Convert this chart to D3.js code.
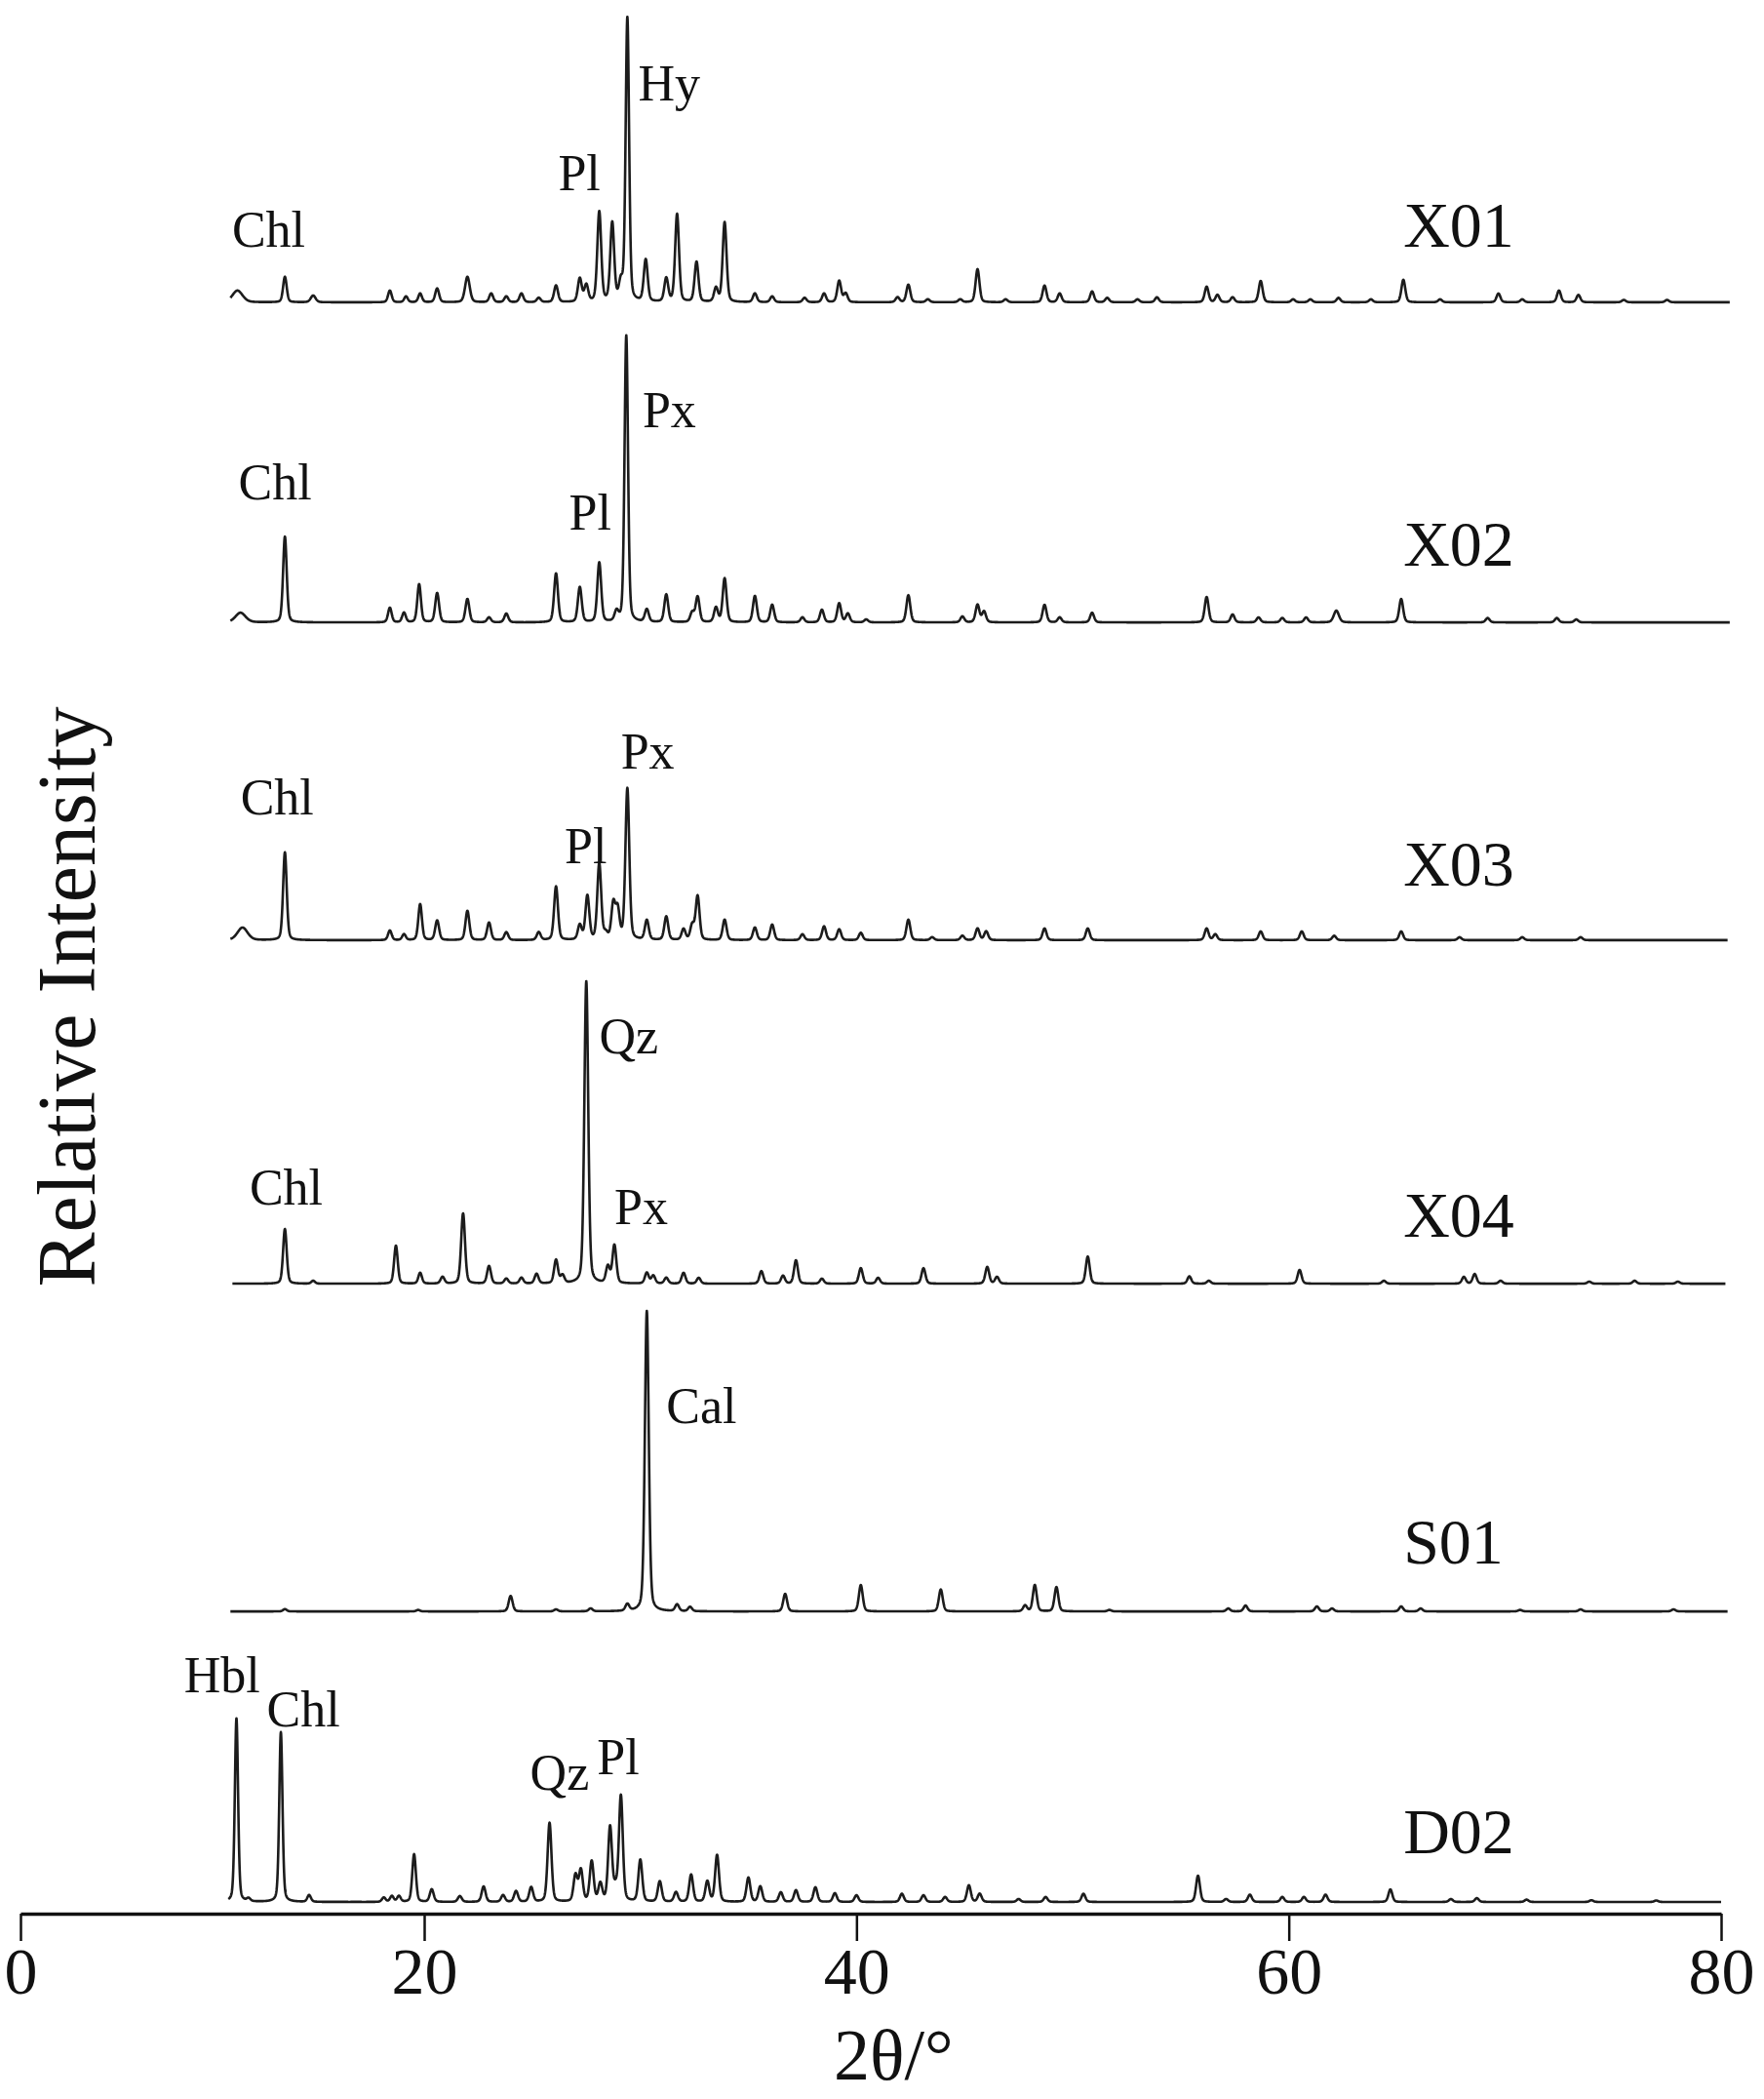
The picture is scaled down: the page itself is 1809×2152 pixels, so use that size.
<!DOCTYPE html>
<html><head><meta charset="utf-8">
<script src="https://cdn.jsdelivr.net/npm/d3@7"></script>
<style>
body{margin:0;background:#fff}
svg{display:block}
text{font-family:"Liberation Serif","Times New Roman",serif;fill:#111}
</style>
</head><body>
<svg id="chart" width="1809" height="2152"></svg>
<script>
// ---------------- DATA ----------------
const samples = ["X01","X02","X03","X04","S01","D02"];
// vertical stacking offset of each pattern (intensity units)
const offsets = [550.7, 441.3, 332.7, 215.3, 103.3, 4];
// scanned 2θ range of each pattern
const scanRanges = [[10.4,80.4],[10.4,80.4],[10.4,80.3],[10.5,80.2],[10.4,80.3],[10.3,80.0]];
const xTicks = [0,20,40,60,80];

// peak lists: [2θ position, relative intensity, optional width]
const peaksX01 = [[10.75,4,0.25],[13.1,8.7],[14.5,2.3,0.12],[18.3,4],[19.1,2],[19.8,3],[20.6,4.7],[22.0,8.7,0.11],[23.1,3],[23.8,2],[24.5,3],[25.3,1.5],[26.1,5.7],[27.2,8],[27.5,5.7],[28.1,30.7],[28.7,26.7],[29.1,6],[29.4,97,0.08],[30.25,14.3],[31.2,8],[31.7,30],[32.6,13.7],[33.5,4.7],[33.9,27.3],[35.3,3],[36.1,2],[37.6,1.5],[38.5,3],[39.2,7.3],[39.5,3],[41.9,1.7],[42.4,6],[43.3,1],[44.8,1],[45.6,11.3],[46.9,1],[48.7,5.7],[49.4,3],[50.9,3.7],[51.6,1.5],[53.0,1],[53.9,1.7],[56.2,5.3],[56.7,2.5],[57.4,1.7],[58.7,7.3],[60.2,1],[61.0,1],[62.3,1.5],[63.8,1],[65.3,7.7],[67.0,1],[69.7,3],[70.8,1],[72.5,4],[73.4,2.5],[75.5,0.8],[77.5,0.8]];
const peaksX02 = [[10.9,3.3,0.25],[13.1,29.3],[18.3,5],[19.0,3.3],[19.75,13],[20.6,10],[22.0,8],[23.0,1.7],[23.8,3],[26.1,16.7],[27.2,12],[28.1,20.3],[28.9,3.3],[29.35,98,0.08],[30.3,4.3],[31.2,9.5],[32.4,3.3],[32.65,8.7],[33.5,5],[33.9,15],[35.3,9],[36.1,6],[37.5,1.7],[38.4,4.3],[39.2,6.5],[39.6,3],[40.45,1],[42.4,9.3],[44.9,2],[45.6,6],[45.9,3.7],[48.7,6],[49.4,1.7],[50.9,3.3],[56.2,8.7],[57.4,2.7],[58.6,1.7],[59.7,1.5],[60.8,1.7],[62.2,4,0.12],[65.2,8],[69.2,1.5],[72.4,1.5],[73.3,1]];
const peaksX03 = [[11.0,4.3,0.25],[13.1,30],[18.3,3.3],[19.0,2],[19.8,12.3],[20.6,6.7],[22.0,10],[23.0,6],[23.8,2.7],[25.3,2.7],[26.1,18.3],[27.2,5],[27.55,15],[28.1,26],[28.4,2],[28.75,12],[28.95,10],[29.4,51.7],[30.3,6.7],[31.2,8],[32.0,3.7],[32.4,5],[32.65,15],[33.9,7],[35.3,4.3],[36.1,5.3],[37.5,2],[38.5,4.7],[39.2,3.7],[40.2,2.5],[42.4,7],[43.5,1],[44.9,1.5],[45.6,4],[46.0,3],[48.7,4],[50.7,4],[56.2,4],[56.6,2],[58.7,3],[60.6,3],[62.1,1.5],[65.2,3],[67.9,1],[70.8,1],[73.5,1]];
const peaksX04 = [[13.1,18.7],[14.5,1],[18.6,13],[19.8,3.7],[20.85,2.3],[21.8,24],[23.0,6],[23.8,1.7],[24.5,2],[25.2,3.3],[26.1,8],[26.4,2.7],[27.5,103.3,0.09],[28.5,5.7],[28.8,13],[30.3,3.7],[30.6,2.7],[31.2,2],[32.0,3.7],[32.7,2],[35.6,4.3],[36.6,2.7],[37.2,8],[38.4,1.7],[40.2,5.3],[41.0,2],[43.1,5.3],[46.05,5.7],[46.5,2.3],[50.7,9.3],[55.4,2.5],[56.3,1],[60.5,4.7],[64.4,1],[68.1,2.3],[68.6,3.3],[69.8,1],[73.9,0.7],[76.0,1],[78.0,0.7]];
const peaksS01 = [[13.1,0.8],[19.7,0.5],[24.0,5.3],[26.1,0.7],[27.7,1],[29.4,2.3],[30.3,102.7,0.09],[31.7,2.3],[32.3,1.5],[36.7,6],[40.2,9],[43.9,7.5],[47.8,2],[48.25,9],[49.25,8.3],[51.7,0.5],[57.2,1],[58.0,2],[61.3,1.7],[62.0,1],[65.2,1.7],[66.1,1],[70.7,0.5],[73.5,0.7],[77.8,0.7]];
const peaksD02 = [[10.7,62.7,0.08],[11.3,1],[12.9,58,0.08],[14.3,2.3],[18.0,1.5],[18.4,2],[18.75,2],[19.5,16.3],[20.35,4.3],[21.65,2],[22.75,5.3],[23.65,2.3],[24.25,3.7],[24.95,5],[25.8,27],[27.0,9],[27.25,10.7],[27.75,13.7],[28.15,6],[28.6,25.3],[28.85,4],[29.1,36],[30.0,14.3],[30.9,7],[31.65,3.3],[32.35,9.3],[33.1,7],[33.55,16],[35.0,8.3],[35.55,5.3],[36.5,3.3],[37.2,4],[38.1,5],[39.0,3],[40.0,2.3],[42.1,2.8],[43.1,2.3],[44.1,1.7],[45.2,5.7],[45.7,2.8],[47.5,1],[48.75,1.7],[50.5,2.8],[55.8,9],[57.1,1],[58.2,2.5],[59.7,1.7],[60.7,1.7],[61.7,2.5],[64.7,4.3],[67.5,1],[68.7,1.3],[71,0.8],[74,0.6],[77,0.5]];
const peakLists = [peaksX01, peaksX02, peaksX03, peaksX04, peaksS01, peaksD02];

// phase annotations: [pattern index, label, 2θ of label start, height above pattern baseline]
const phaseLabels = [
  [0,"Chl",10.48,19],[0,"Pl",26.2,38.3],[0,"Hy",29.9,69],
  [1,"Chl",10.8,42],[1,"Pl",26.7,31.7],[1,"Px",30.1,66.7],
  [2,"Chl",10.9,43],[2,"Pl",26.5,26.3],[2,"Px",29.1,58.7],
  [3,"Chl",11.35,27],[3,"Qz",28.1,78.7],[3,"Px",28.8,20.3],
  [4,"Cal",31.2,64.3],
  [5,"Hbl",8.1,71.7],[5,"Chl",12.2,60],[5,"Qz",24.9,38.3],[5,"Pl",28.0,43.7]
];
// sample name labels: [2θ of label start, height above pattern baseline]
const sampleLabelPos = [[65.3,19],[65.3,19.3],[65.3,18.7],[65.3,16],[65.3,16.3],[65.3,16.7]];

// ---------------- CHART ----------------
const svg = d3.select("#chart");
const x = d3.scaleLinear().domain([0,20,80]).range([21,435,1765]);
const y = d3.scaleLinear().domain([0,660]).range([1962,-18]);

function profile(t, peaks){
  let s = 0;
  for (const p of peaks){
    const d = t - p[0];
    if (Math.abs(d) > 4) continue;
    const sg = p[2] || 0.09;
    const g = Math.exp(-d*d/(2*sg*sg));
    const gm = sg*1.177;
    const l = 1/(1+(d/gm)*(d/gm));
    s += p[1]*(0.7*g + 0.3*l);
  }
  return s;
}

const line = d3.line().x(d=>x(d[0])).y(d=>y(d[1]));

samples.forEach((name,i)=>{
  const [a,b] = scanRanges[i];
  const pts = d3.range(a, b+0.0001, 0.01).map(t=>[t, offsets[i] + profile(t, peakLists[i])]);
  svg.append("path").datum(pts)
    .attr("d", line)
    .attr("fill","none")
    .attr("stroke","#1c1c1c")
    .attr("stroke-width",2.6)
    .attr("stroke-linejoin","round");
  const sl = sampleLabelPos[i];
  svg.append("text")
    .attr("x", x(sl[0])).attr("y", y(offsets[i]+sl[1]))
    .attr("font-size", 66)
    .text(name);
});

phaseLabels.forEach(l=>{
  svg.append("text")
    .attr("x", x(l[2])).attr("y", y(offsets[l[0]]+l[3]))
    .attr("font-size", 52)
    .text(l[1]);
});

// x axis
const ax = svg.append("g").attr("transform",`translate(0,${y(0)})`)
  .call(d3.axisBottom(x).tickValues(xTicks).tickSize(28).tickSizeOuter(0).tickPadding(6).tickFormat(d3.format("d")));
ax.select(".domain").attr("stroke","#111").attr("stroke-width",3.5);
ax.selectAll(".tick line").attr("stroke","#111").attr("stroke-width",2.5);
ax.selectAll(".tick text").attr("font-size",68).attr("font-family","Liberation Serif, serif").attr("fill","#111");

// axis titles
svg.append("text")
  .attr("x", x(40)+38).attr("y", 2132)
  .attr("text-anchor","middle").attr("font-size",74)
  .text("2θ/°");
svg.append("text")
  .attr("transform","translate(97,1022) rotate(-90)")
  .attr("text-anchor","middle").attr("font-size",84)
  .text("Relative Intensity");
</script>
</body></html>
